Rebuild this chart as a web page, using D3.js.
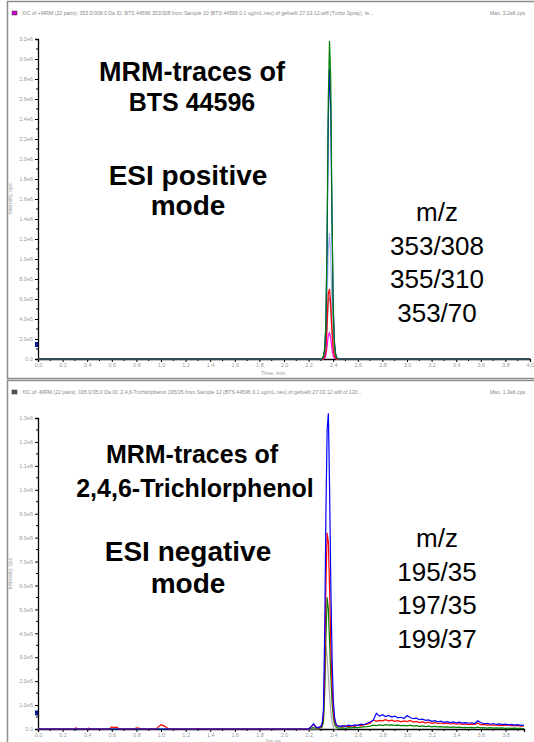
<!DOCTYPE html>
<html>
<head>
<meta charset="utf-8">
<script src="https://cdn.jsdelivr.net/npm/d3@7"></script>
<style>
  body { margin: 0; background: #fff; }
  text { font-family: "Liberation Sans", Arial, sans-serif; }
</style>
</head>
<body>
<div id="chart"></div>
<script>
var svgWidth = 534;
var svgHeight = 742;

// ---- tick labels ----
var topXTickLabels = ["0.0","0.2","0.4","0.6","0.8","1.0","1.2","1.4","1.6","1.8","2.0",
  "2.2","2.4","2.6","2.8","3.0","3.2","3.4","3.6","3.8","4.0"];
var topYTickLabels = ["0.0","2.0e5","4.0e5","6.0e5","8.0e5","1.0e6","1.2e6","1.4e6","1.6e6",
  "1.8e6","2.0e6","2.2e6","2.4e6","2.6e6","2.8e6","3.0e6","3.2e6"];
var bottomXTickLabels = ["0.0","0.2","0.4","0.6","0.8","1.0","1.2","1.4","1.6","1.8","2.0",
  "2.2","2.4","2.6","2.8","3.0","3.2","3.4","3.6","3.8"];
var bottomYTickLabels = ["0.0","1.0e5","2.0e5","3.0e5","4.0e5","5.0e5","6.0e5","7.0e5","8.0e5",
  "9.0e5","1.0e6","1.1e6","1.2e6","1.3e6"];

// ---- top panel: BTS 44596 (values x 1e4 cps) ----
var topTime = [0.00, 2.28, 2.30, 2.31, 2.32, 2.33, 2.34, 2.35, 2.36, 2.37, 2.38, 2.39, 2.40, 2.41, 2.42, 2.43, 2.45, 4.00];
var topBlue      = [0, 0, 0, 0.3, 2, 8, 30, 110, 240, 290, 250, 140, 55, 18, 5, 1, 0, 0];
var topGreen     = [0, 0, 0, 0.5, 3, 10, 35, 120, 260, 318, 280, 150, 50, 15, 4, 1, 0, 0];
var topLightBlue = [0, 0, 0, 0.2, 1, 4, 15, 55, 110, 126, 100, 55, 20, 6, 2, 0.5, 0, 0];
var topRed       = [0, 0, 0, 0.1, 0.5, 2, 8, 35, 65, 70, 55, 30, 10, 3, 1, 0, 0, 0];
var topGray      = [0, 0, 0, 0.1, 0.5, 2, 7, 30, 58, 62, 48, 25, 8, 3, 1, 0, 0, 0];
var topMagenta   = [0, 0, 0, 0, 0.2, 0.8, 3, 12, 24, 26, 20, 10, 3, 1, 0.3, 0, 0, 0];

// ---- bottom panel: 2,4,6-Trichlorphenol (values x 1e4 cps) ----
var redEarlyTime = [0.00, 0.29, 0.31, 0.33, 0.39, 0.41, 0.43, 0.58, 0.60, 0.62, 0.64, 0.66,
  0.78, 0.80, 0.82, 0.84, 0.96, 0.98, 1.00, 1.02, 1.04, 1.06, 1.28, 1.30, 1.32, 2.18];
var redEarly = [0, 0, 0.5, 0, 0, 0.4, 0, 0, 0.9, 0.6, 0.8, 0,
  0, 0.5, 0.4, 0, 0, 1.0, 1.8, 1.4, 0.8, 0, 0, 0.3, 0, 0];
var flatEarlyTime = [0.00, 2.18];
var flatEarly = [0, 0];

var bottomPeakTime = [2.20, 2.22, 2.24, 2.26, 2.28, 2.30, 2.31, 2.32, 2.33, 2.34, 2.35, 2.36,
  2.37, 2.38, 2.39, 2.40, 2.41, 2.42, 2.43];
var bluePeak  = [0, 1.0, 2.2, 0.8, 0.6, 1.2, 2.5, 8, 40, 90, 125, 132, 100, 60, 30, 12, 5, 2.5, 1.5];
var redPeak   = [0, 0.8, 1.8, 0.6, 0.4, 1.0, 2, 6, 25, 60, 82, 78, 58, 35, 18, 8, 3.5, 2, 1.3];
var greenPeak = [0, 0.3, 0.6, 0.3, 0.2, 0.5, 1, 3, 15, 38, 55, 50, 36, 22, 11, 5, 2, 1, 0.6];
var grayPeak  = [0, 0, 0, 0, 0, 0.5, 1, 5, 20, 35, 30, 22, 14, 7, 3, 1, 0, 0, 0];

var bottomTailTime = [
  2.450, 2.475, 2.500, 2.525, 2.550, 2.575, 2.600, 2.625, 2.650, 2.675,
  2.700, 2.725, 2.750, 2.775, 2.800, 2.825, 2.850, 2.875, 2.900, 2.925,
  2.950, 2.975, 3.000, 3.025, 3.050, 3.075, 3.100, 3.125, 3.150, 3.175,
  3.200, 3.225, 3.250, 3.275, 3.300, 3.325, 3.350, 3.375, 3.400, 3.425,
  3.450, 3.475, 3.500, 3.525, 3.550, 3.575, 3.600, 3.625, 3.650, 3.675,
  3.700, 3.725, 3.750, 3.775, 3.800, 3.825, 3.850, 3.875, 3.900, 3.925,
  3.950];
var blueTail = [
  1.0, 1.4, 1.1, 1.6, 1.3, 1.7, 1.5, 2.0, 1.8, 2.4,
  2.9, 3.6, 6.6, 5.4, 6.0, 5.2, 5.7, 5.0, 5.4, 4.7,
  4.9, 4.4, 5.6, 4.8, 4.3, 4.5, 3.9, 4.1, 3.6, 3.8,
  3.2, 3.5, 3.0, 3.3, 2.8, 3.1, 2.7, 3.0, 2.6, 2.9,
  2.5, 2.7, 2.4, 2.6, 2.3, 3.4, 2.6, 2.2, 2.4, 2.0,
  2.3, 1.9, 2.1, 1.8, 2.0, 1.7, 1.9, 1.6, 1.8, 1.5,
  1.6];
var redTail = [
  1.2, 0.9, 1.3, 1.0, 1.4, 1.1, 1.6, 1.3, 1.8, 2.0,
  2.4, 3.8, 3.2, 3.6, 3.4, 3.9, 3.3, 3.7, 3.2, 3.5,
  3.0, 3.4, 3.1, 3.6, 2.9, 3.2, 2.7, 3.0, 2.6, 2.9,
  2.4, 2.7, 2.3, 2.5, 2.2, 2.4, 2.1, 2.3, 2.0, 2.2,
  1.9, 2.1, 1.8, 2.0, 1.9, 2.4, 1.7, 1.9, 1.6, 1.8,
  1.5, 1.7, 1.4, 1.6, 1.5, 1.7, 1.3, 1.5, 1.4, 1.2,
  1.3];
var greenTail = [
  0.4, 0.5, 0.3, 0.6, 0.5, 0.7, 0.6, 0.8, 0.9, 1.0,
  1.2, 1.6, 1.4, 1.7, 1.5, 1.8, 1.6, 1.7, 1.5, 1.6,
  1.4, 1.5, 1.3, 1.6, 1.2, 1.4, 1.1, 1.3, 1.0, 1.2,
  0.9, 1.1, 0.9, 1.0, 0.8, 0.9, 0.7, 0.9, 0.7, 0.8,
  0.6, 0.7, 0.6, 0.7, 0.5, 0.8, 0.5, 0.6, 0.4, 0.6,
  0.4, 0.5, 0.4, 0.5, 0.3, 0.4, 0.3, 0.4, 0.3, 0.3,
  0.2];

// helper: zip time + value arrays into points, scaled to cps
function zip(times, values, unit) {
  return times.map(function(t, i) { return { t: t, v: values[i] * unit }; });
}

var svg = d3.select("#chart")
  .append("svg")
  .attr("width", svgWidth)
  .attr("height", svgHeight);

function drawPanel(p) {
  var g = svg.append("g");

  // frame + header
  g.append("rect")
    .attr("x", 7.5).attr("y", p.frameTop + 1.5)
    .attr("width", 540).attr("height", p.frameHeight)
    .attr("fill", "none").attr("stroke", "#8c8c8c").attr("stroke-width", 1.5);
  g.append("rect")
    .attr("x", 12).attr("y", p.frameTop + 11)
    .attr("width", 5).attr("height", 4)
    .attr("fill", p.headerColor).attr("stroke", "#333").attr("stroke-width", 0.5);
  g.append("text")
    .attr("x", 22).attr("y", p.frameTop + 15)
    .attr("font-size", 5.2).attr("fill", "#8a8a8a")
    .text(p.header);
  g.append("text")
    .attr("x", 490).attr("y", p.frameTop + 15)
    .attr("font-size", 5.2).attr("fill", "#8a8a8a")
    .text(p.maxLabel);

  var x = d3.scaleLinear().domain([0, p.xMax]).range([38, p.xRight]);
  var y = d3.scaleLinear().domain([0, p.yMax]).range([p.plotBottom, p.plotTop]);

  // y axis
  var yValues = p.yLabels.map(function(l) { return +l; });
  var yStep = yValues[1] - yValues[0];
  var yMinor = yValues.slice(0, -1).map(function(v) { return v + yStep / 2; });
  var yAxis = d3.axisLeft(y)
    .tickValues(yValues)
    .tickFormat(function(d, i) { return p.yLabels[i]; })
    .tickSize(3).tickPadding(2);
  var yg = g.append("g").attr("transform", "translate(38,0)").call(yAxis);
  yg.append("g").selectAll("line").data(yMinor).enter().append("line")
    .attr("x1", -2).attr("x2", 0)
    .attr("y1", function(d) { return y(d); }).attr("y2", function(d) { return y(d); })
    .attr("stroke", "#000");

  // x axis
  var xValues = p.xLabels.map(function(l) { return +l; });
  var xMinor = xValues.map(function(v) { return v + 0.1; })
    .filter(function(v) { return v <= p.xMax; });
  var xAxis = d3.axisBottom(x)
    .tickValues(xValues)
    .tickFormat(function(d, i) { return p.xLabels[i]; })
    .tickSize(3).tickPadding(1.5);
  var xg = g.append("g").attr("transform", "translate(0," + p.plotBottom + ")").call(xAxis);
  xg.append("g").selectAll("line").data(xMinor).enter().append("line")
    .attr("x1", function(d) { return x(d); }).attr("x2", function(d) { return x(d); })
    .attr("y1", 0).attr("y2", 2)
    .attr("stroke", "#000");

  [yg, xg].forEach(function(ax) {
    ax.select(".domain").attr("stroke", "#000").attr("stroke-width", 1.3);
    ax.selectAll(".tick line").attr("stroke", "#000");
    ax.selectAll(".tick text")
      .attr("font-size", 5.5).attr("fill", "#9a9a9a")
      .attr("font-family", "Liberation Sans, Arial, sans-serif");
  });

  // axis titles
  g.append("text")
    .attr("transform", "translate(12," + ((p.plotTop + p.plotBottom) / 2) + ") rotate(-90)")
    .attr("text-anchor", "middle").attr("font-size", 5.5).attr("fill", "#9a9a9a")
    .text("Intensity, cps");
  g.append("text")
    .attr("x", 273).attr("y", Math.min(p.plotBottom + 16, svgHeight - 0.5))
    .attr("text-anchor", "middle").attr("font-size", p.timeSize).attr("fill", "#9a9a9a")
    .text("Time, min");

  // traces
  var line = d3.line()
    .x(function(d) { return x(d.t); })
    .y(function(d) { return y(d.v); });
  g.append("g").selectAll("path")
    .data(p.traces).enter().append("path")
    .attr("d", function(d) { return line(d.points); })
    .attr("fill", "none")
    .attr("stroke", function(d) { return d.color; })
    .attr("stroke-width", 1.2);

  // baseline marker on the y axis
  g.append("rect")
    .attr("x", 35).attr("y", y(p.marker) - 3)
    .attr("width", 3).attr("height", 5)
    .attr("fill", "#0a1a8c");

  // annotations
  var ann = g.append("g");
  p.titleLines.forEach(function(l) {
    ann.append("text")
      .attr("x", l.x).attr("y", l.y)
      .attr("text-anchor", "middle")
      .attr("font-size", l.size).attr("font-weight", "bold").attr("fill", "#000")
      .text(l.text);
  });
  p.mzLines.forEach(function(txt, i) {
    ann.append("text")
      .attr("x", 437).attr("y", p.mzTop + i * 33.5)
      .attr("text-anchor", "middle")
      .attr("font-size", 26).attr("fill", "#000")
      .text(txt);
  });
}

drawPanel({
  frameTop: 0, frameHeight: 377,
  headerColor: "#cc00cc",
  header: "XIC of +MRM (22 pairs): 353.0/308.0 Da ID: BTS 44596 353/308 from Sample 10 (BTS 44596 0.1 ug/mL neu) of gefuellt 27.03.12.wiff (Turbo Spray), Ie...",
  maxLabel: "Max. 3.2e6 cps.",
  xMax: 4.0, xRight: 530,
  yMax: 3.2e6, plotTop: 39, plotBottom: 359,
  xLabels: topXTickLabels, yLabels: topYTickLabels,
  marker: 1.4e5, timeSize: 5.5,
  traces: [
    { color: "#9db3e8", points: zip(topTime, topLightBlue, 1e4) },
    { color: "#ff00ff", points: zip(topTime, topMagenta, 1e4) },
    { color: "#909090", points: zip(topTime, topGray, 1e4) },
    { color: "#ff0000", points: zip(topTime, topRed, 1e4) },
    { color: "#0000ff", points: zip(topTime, topBlue, 1e4) },
    { color: "#008000", points: zip(topTime, topGreen, 1e4) }
  ],
  titleLines: [
    { text: "MRM-traces of", x: 192, y: 81, size: 27 },
    { text: "BTS 44596", x: 192, y: 111, size: 25 },
    { text: "ESI positive", x: 188, y: 185, size: 28 },
    { text: "mode", x: 188, y: 215, size: 28 }
  ],
  mzTop: 221,
  mzLines: ["m/z", "353/308", "355/310", "353/70"]
});

drawPanel({
  frameTop: 379, frameHeight: 380,
  headerColor: "#555555",
  header: "XIC of -MRM (22 pairs): 195.0/35.0 Da ID: 2,4,6-Trichlorphenol 195/35 from Sample 12 (BTS 44596 0.1 ug/mL neu) of gefuellt 27.03.12.wiff of 120...",
  maxLabel: "Max. 1.3e6 cps.",
  xMax: 3.95, xRight: 524,
  yMax: 1.3e6, plotTop: 418, plotBottom: 729,
  xLabels: bottomXTickLabels, yLabels: bottomYTickLabels,
  marker: 0.65e5, timeSize: 3.6,
  traces: [
    { color: "#a8a8a8", points: zip(bottomPeakTime, grayPeak, 1e4) },
    { color: "#008000", points: zip(flatEarlyTime.concat(bottomPeakTime, bottomTailTime), flatEarly.concat(greenPeak, greenTail), 1e4) },
    { color: "#ff0000", points: zip(redEarlyTime.concat(bottomPeakTime, bottomTailTime), redEarly.concat(redPeak, redTail), 1e4) },
    { color: "#0000ff", points: zip(flatEarlyTime.concat(bottomPeakTime, bottomTailTime), flatEarly.concat(bluePeak, blueTail), 1e4) }
  ],
  titleLines: [
    { text: "MRM-traces of", x: 192, y: 463, size: 25 },
    { text: "2,4,6-Trichlorphenol", x: 195, y: 497, size: 25 },
    { text: "ESI negative", x: 188, y: 561, size: 28 },
    { text: "mode", x: 188, y: 593, size: 28 }
  ],
  mzTop: 547,
  mzLines: ["m/z", "195/35", "197/35", "199/37"]
});
</script>
</body>
</html>
